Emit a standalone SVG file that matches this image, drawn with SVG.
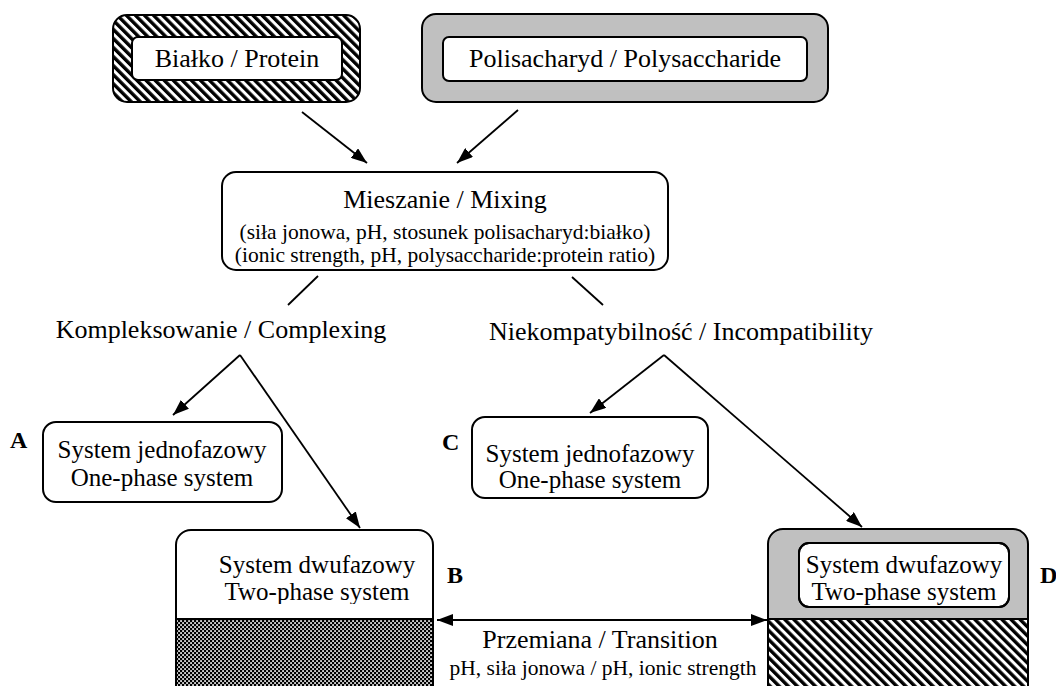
<svg xmlns="http://www.w3.org/2000/svg" width="1056" height="686" viewBox="0 0 1056 686">
<defs>
<style>
text{font-family:"Liberation Serif","Times New Roman",serif;fill:#000}
.t{font-size:26px;text-anchor:middle}
.b{font-size:25px;text-anchor:middle}
.s{font-size:21.5px;text-anchor:middle}
.lab{font-size:24px;font-weight:bold}
.box{fill:#fff;stroke:#000;stroke-width:2}
.out{stroke:#000;stroke-width:2}
.con{fill:none;stroke:#000;stroke-width:1.8}
</style>
<pattern id="hatch" patternUnits="userSpaceOnUse" width="6.4" height="6.4" patternTransform="rotate(-45)"><rect width="6.4" height="6.4" fill="#fff"/><rect width="3.4" height="6.4" fill="#000"/></pattern>
<pattern id="check" patternUnits="userSpaceOnUse" width="4" height="4"><rect width="4" height="4" fill="#000"/><rect x="0.2" y="0.2" width="1.7" height="1.7" fill="#fff"/><rect x="2.2" y="2.2" width="1.7" height="1.7" fill="#fff"/></pattern>
<marker id="ah" viewBox="0 0 16 12" refX="16" refY="6" markerWidth="16" markerHeight="12" markerUnits="userSpaceOnUse" orient="auto-start-reverse"><path d="M0,0 L16,6 L0,12 Z" fill="#000"/></marker>
<clipPath id="clipB"><rect x="176" y="530" width="257" height="74"/></clipPath>
<clipPath id="clipD"><rect x="799" y="543" width="210" height="63"/></clipPath>
</defs>

<g id="protein">
<rect x="113" y="15" width="247" height="87" rx="14" fill="url(#hatch)" class="out"/>
<rect x="132" y="37" width="210" height="43" rx="6" class="box"/>
<text x="237" y="67" class="t">Białko / Protein</text>
</g>

<g id="polysaccharide">
<rect x="422" y="14" width="406" height="88" rx="14" fill="#c0c0c0" class="out"/>
<rect x="443" y="37" width="364" height="44" rx="6" class="box"/>
<text x="625" y="67" class="t">Polisacharyd / Polysaccharide</text>
</g>

<g id="mixing">
<rect x="222" y="172" width="446" height="98" rx="14" class="box"/>
<text x="445" y="208" class="t">Mieszanie / Mixing</text>
<text x="445" y="239" class="s">(siła jonowa, pH, stosunek polisacharyd:białko)</text>
<text x="445" y="262" class="s">(ionic strength, pH, polysaccharide:protein ratio)</text>
</g>

<g id="complexing">
<text x="221" y="338" class="t">Kompleksowanie / Complexing</text>
</g>

<g id="incompatibility">
<text x="681" y="340" class="t">Niekompatybilność / Incompatibility</text>
</g>

<g id="nodeA">
<text x="10" y="448" class="lab">A</text>
<rect x="43" y="422" width="239" height="80" rx="13" class="box"/>
<text x="162" y="458" class="b">System jednofazowy</text>
<text x="162" y="486" class="b">One-phase system</text>
</g>

<g id="nodeC">
<text x="442" y="450" class="lab">C</text>
<rect x="472" y="417" width="236" height="81" rx="13" class="box"/>
<text x="590" y="462" class="b">System jednofazowy</text>
<text x="590" y="488" class="b">One-phase system</text>
</g>

<g id="nodeB">
<path d="M176,690 V545 A15,15 0 0 1 191,530 H418 A15,15 0 0 1 433,545 V690 Z" fill="#fff"/>
<rect x="176" y="619" width="257" height="71" fill="url(#check)"/>
<line x1="176" y1="619" x2="433" y2="619" class="out"/>
<path d="M176,690 V545 A15,15 0 0 1 191,530 H418 A15,15 0 0 1 433,545 V690" fill="none" class="out"/>
<g clip-path="url(#clipB)">
<text x="317" y="573" class="b">System dwufazowy</text>
<text x="317" y="600" class="b">Two-phase system</text>
</g>
<text x="447" y="583" class="lab">B</text>
</g>

<g id="nodeD">
<path d="M768,690 V544 A15,15 0 0 1 783,529 H1013 A15,15 0 0 1 1028,544 V690 Z" fill="#c0c0c0"/>
<rect x="768" y="619" width="260" height="71" fill="url(#hatch)"/>
<line x1="768" y1="619" x2="1028" y2="619" class="out"/>
<path d="M768,690 V544 A15,15 0 0 1 783,529 H1013 A15,15 0 0 1 1028,544 V690" fill="none" class="out"/>
<rect x="799" y="543" width="210" height="64" rx="10" class="box"/>
<g clip-path="url(#clipD)">
<text x="904" y="573" class="b">System dwufazowy</text>
<text x="904" y="600" class="b">Two-phase system</text>
</g>
<rect x="799" y="543" width="210" height="64" rx="10" fill="none" class="out"/>
<text x="1040" y="583" class="lab">D</text>
</g>

<g id="transition">
<text x="600" y="648" class="t">Przemiana / Transition</text>
<text x="603" y="675" class="s">pH, siła jonowa / pH, ionic strength</text>
</g>

<g id="connectors">
<line x1="302" y1="112" x2="367" y2="163" class="con" marker-end="url(#ah)"/>
<line x1="518" y1="110" x2="457" y2="163" class="con" marker-end="url(#ah)"/>
<line x1="318" y1="276" x2="288" y2="305" class="con"/>
<line x1="572" y1="277" x2="603" y2="305" class="con"/>
<line x1="240" y1="355" x2="173" y2="415" class="con" marker-end="url(#ah)"/>
<line x1="240" y1="355" x2="360" y2="528" class="con" marker-end="url(#ah)"/>
<line x1="664" y1="355" x2="590" y2="413" class="con" marker-end="url(#ah)"/>
<line x1="664" y1="355" x2="862" y2="527" class="con" marker-end="url(#ah)"/>
<line x1="437" y1="620" x2="767" y2="620" class="con" marker-start="url(#ah)" marker-end="url(#ah)"/>
</g>
</svg>
